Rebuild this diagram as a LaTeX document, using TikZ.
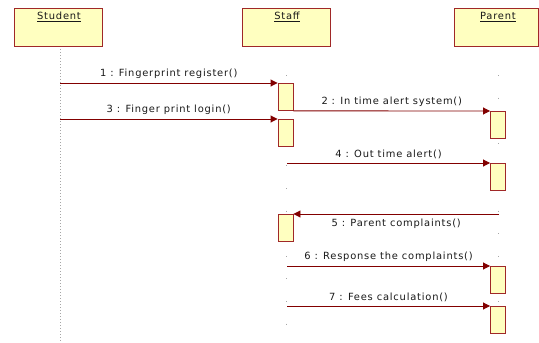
\documentclass[tikz,border=0pt]{standalone}
\usepackage{fontspec}
\setmainfont{DejaVu Sans}[LetterSpace=8]
\usetikzlibrary{arrows.meta}
\definecolor{boxborder}{RGB}{160,40,40}
\definecolor{boxfill}{RGB}{255,255,192}
\definecolor{msgcol}{RGB}{130,0,0}
\tikzset{
  objbox/.style={draw=boxborder, fill=boxfill, line width=0.9pt, minimum width=88pt, minimum height=38pt, inner sep=0pt},
  actbox/.style={draw=boxborder, fill=boxfill, line width=0.9pt, minimum width=15pt, minimum height=27pt, inner sep=0pt, anchor=north},
  msg/.style={draw=msgcol, line width=0.9pt, -{Triangle[length=7pt,width=7pt]}},
  lbl/.style={font=\fontsize{9.9pt}{11pt}\selectfont, text=black!90, inner sep=0pt},
  lifeline/.style={draw=gray!70, line width=0.6pt, dash pattern=on 0.8pt off 2.2pt},
  sparse/.style={draw=gray!70, line width=0.6pt, dash pattern=on 0.6pt off 22pt}
}
\begin{document}
\begin{tikzpicture}[x=1pt,y=-1pt]
\useasboundingbox (0,0) rectangle (539,343);
% objects
\node[objbox] (student) at (58,27) {};
\node[objbox] (staff) at (286,27) {};
\node[objbox, minimum width=84pt] (parent) at (496,27) {};
\node[lbl, anchor=north] (studentlbl) at (59,12) {\underline{Student}};
\node[lbl, anchor=north] (stafflbl) at (287,12) {\underline{Staff}};
\node[lbl, anchor=north] (parentlbl) at (498,12) {\underline{Parent}};
% lifelines
\coordinate (sEnd) at (60,343);
\coordinate (sStart) at (60,49);
\draw[lifeline] (sStart) -- (sEnd);
\coordinate (tStart) at (286,75);
\coordinate (tEnd) at (286,330);
\draw[sparse] (tStart) -- (tEnd);
\coordinate (pStart) at (498,75);
\coordinate (pEnd) at (498,330);
\draw[sparse] (pStart) -- (pEnd);
% activations
\node[actbox] (sa1) at (285.5,83) {};
\node[actbox] (sa2) at (285.5,119) {};
\node[actbox] (sa3) at (285.5,214) {};
\node[actbox] (pa1) at (498,111) {};
\node[actbox] (pa2) at (498,163) {};
\node[actbox] (pa3) at (498,266) {};
\node[actbox] (pa4) at (498,306) {};
% message anchors
\coordinate (m1s) at (60,83);
\coordinate (m3s) at (60,119);
\coordinate (m4s) at (287,163);
\coordinate (m5s) at (499,214);
\coordinate (m6s) at (287,266);
\coordinate (m7s) at (287,306);
% messages
\draw[msg] (m1s) -- (sa1.north west) node[lbl, midway, above=4pt] {1 : Fingerprint register()};
\draw[msg] (sa1.south east) -- (pa1.north west) node[lbl, midway, above=4pt] {2 : In time alert system()};
\draw[msg] (m3s) -- (sa2.north west) node[lbl, midway, above=4pt] {3 : Finger print login()};
\draw[msg] (m4s) -- (pa2.north west) node[lbl, midway, above=4pt] {4 : Out time alert()};
\draw[msg] (m5s) -- (sa3.north east) node[lbl, midway, below=5pt] {5 : Parent complaints()};
\draw[msg] (m6s) -- (pa3.north west) node[lbl, midway, above=4pt] {6 : Response the complaints()};
\draw[msg] (m7s) -- (pa4.north west) node[lbl, midway, above=4pt] {7 : Fees calculation()};
\end{tikzpicture}
\end{document}
